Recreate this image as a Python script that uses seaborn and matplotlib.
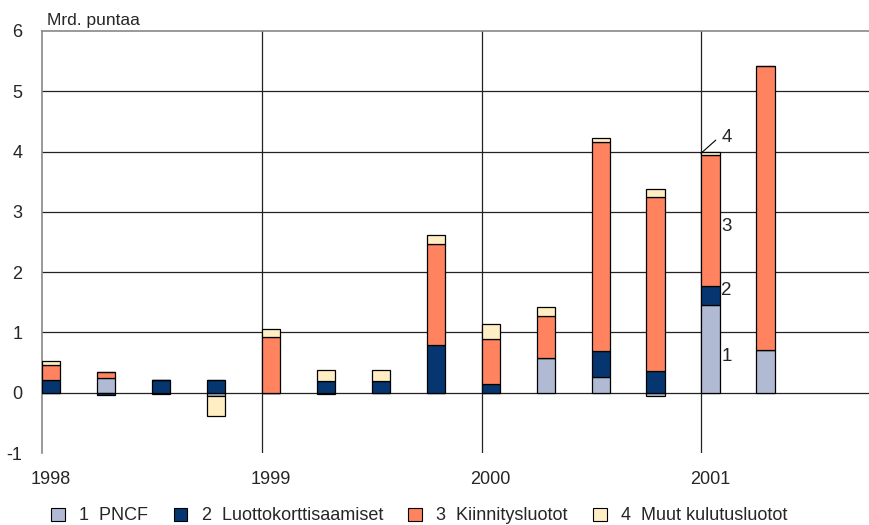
import numpy as np
import seaborn as sns
import matplotlib.pyplot as plt
from matplotlib.patches import Patch

sns.set_theme(style="white")
plt.rcParams["font.family"] = ["Liberation Sans", "DejaVu Sans"]

# quarterly data 1998Q1 - 2001Q2, bn pounds
quarters = ["1998Q1", "1998Q2", "1998Q3", "1998Q4", "1999Q1", "1999Q2", "1999Q3",
            "1999Q4", "2000Q1", "2000Q2", "2000Q3", "2000Q4", "2001Q1", "2001Q2"]
pncf = [0.0, 0.24, -0.02, -0.06, 0.0, -0.02, 0.0, 0.0, 0.0, 0.57, 0.26, -0.06, 1.45, 0.71]
luottokortti = [0.21, -0.04, 0.22, 0.21, 0.0, 0.20, 0.20, 0.79, 0.14, 0.0, 0.43, 0.36, 0.32, 0.0]
kiinnitys = [0.25, 0.11, 0.0, 0.0, 0.92, 0.0, 0.0, 1.67, 0.75, 0.71, 3.47, 2.89, 2.17, 4.71]
muut = [0.07, 0.0, 0.0, -0.32, 0.14, 0.17, 0.17, 0.16, 0.25, 0.15, 0.07, 0.13, 0.06, 0.0]

series = [pncf, luottokortti, kiinnitys, muut]
labels = ["1  PNCF", "2  Luottokorttisaamiset", "3  Kiinnitysluotot", "4  Muut kulutusluotot"]
colors = ["#b0bad3", "#053670", "#ff835e", "#ffedc4"]
years = ["1998", "1999", "2000", "2001"]

bar_w = 0.33
pos = np.arange(len(quarters)) + bar_w / 2

fig, ax = plt.subplots(figsize=(8.7, 5.25), dpi=100)
fig.subplots_adjust(left=0.048, right=0.999, top=0.941, bottom=0.137)

pos_base = np.zeros(len(quarters))
neg_base = np.zeros(len(quarters))
for vals, col in zip(series, colors):
    vals = np.array(vals)
    bottom = np.where(vals >= 0, pos_base, neg_base)
    sns.barplot(x=pos, y=vals, native_scale=True, width=bar_w, color=col,
                saturation=1, edgecolor="black", linewidth=0.9, errorbar=None,
                bottom=bottom, ax=ax, zorder=3)
    pos_base += np.clip(vals, 0, None)
    neg_base += np.clip(vals, None, 0)

# grid
for y in range(0, 6):
    ax.axhline(y, color="#222222", lw=0.9, zorder=1)
for q in (4, 8, 12):
    ax.axvline(q, color="#222222", lw=0.9, zorder=1)

ax.set_xlim(0, 15.05)
ax.set_ylim(-1, 6)
ax.set_yticks(range(-1, 7))
ax.set_yticklabels([str(v) for v in range(-1, 7)], fontsize=13)
ax.set_xticks([bar_w / 2 + 4 * i for i in range(4)])
ax.set_xticklabels(years, fontsize=13)
ax.tick_params(axis="both", length=0)
ax.tick_params(axis="y", pad=14)
ax.tick_params(axis="x", pad=13)
ax.set_xlabel("")
ax.set_ylabel("")
for side in ("right", "bottom"):
    ax.spines[side].set_visible(False)
for side in ("left", "top"):
    ax.spines[side].set_color("#888888")
    ax.spines[side].set_linewidth(1.2)

ax.text(0.1, 6.05, "Mrd. puntaa", fontsize=12.5, va="bottom", ha="left")

# segment labels on the 2001Q1 bar
ax.text(12.36, 0.60, "1", fontsize=13.5, va="center")
ax.text(12.36, 1.69, "2", fontsize=13.5, va="center")
ax.text(12.36, 2.76, "3", fontsize=13.5, va="center")
ax.text(12.36, 4.23, "4", fontsize=13.5, va="center")
ax.plot([11.99, 12.26], [3.97, 4.19], color="black", lw=0.8, zorder=4)

handles = [Patch(facecolor=c, edgecolor="black", linewidth=0.8) for c in colors]
fig.legend(handles, labels, loc="lower center", ncol=4, frameon=False,
           fontsize=13, bbox_to_anchor=(0.482, -0.03), handlelength=0.75,
           handleheight=0.75, columnspacing=1.4, handletextpad=0.8)

plt.savefig("out.png", dpi=100)
